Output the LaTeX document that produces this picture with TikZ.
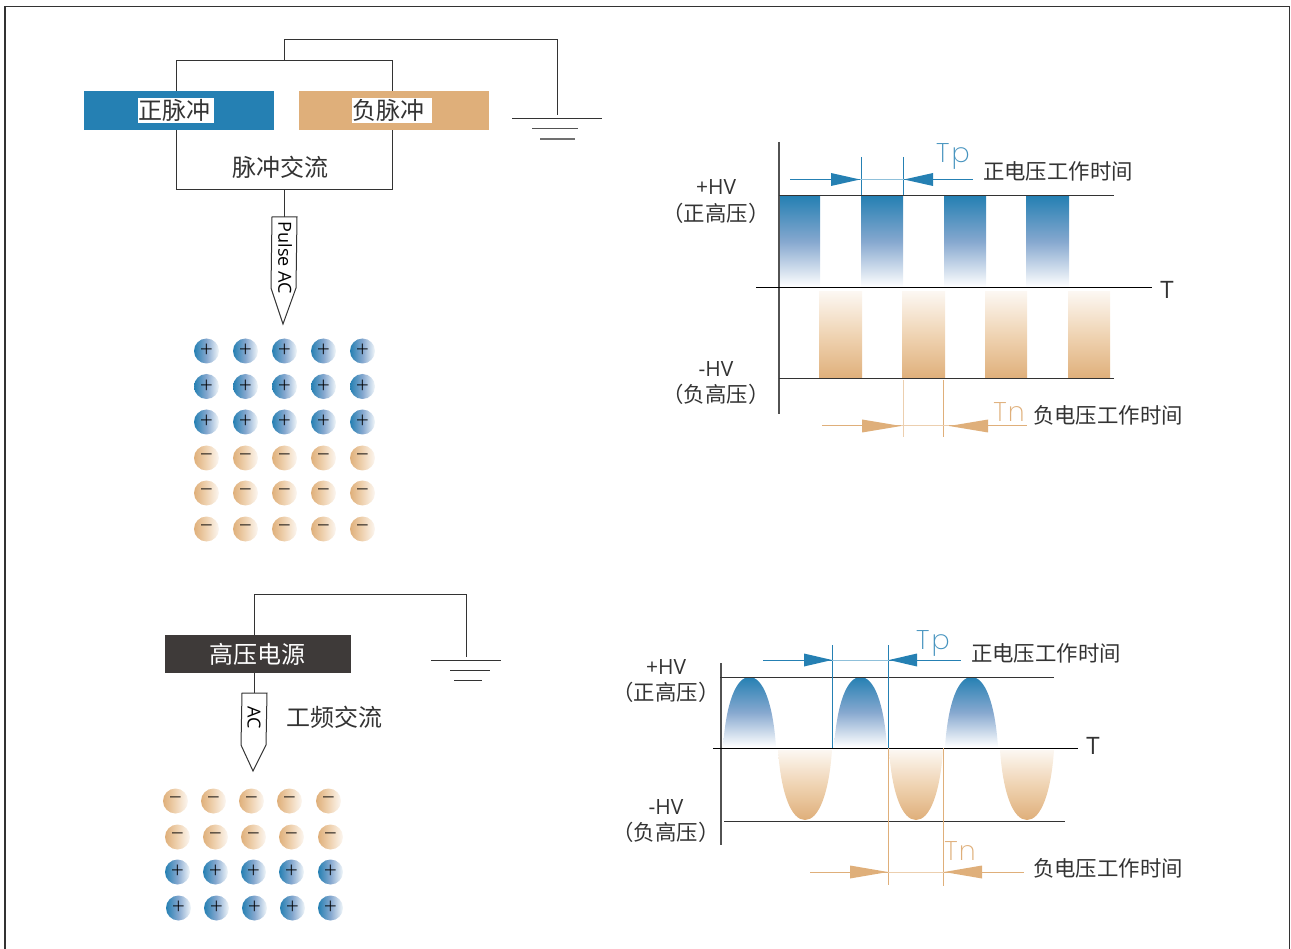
\documentclass[tikz,border=0pt]{standalone}
\usepackage{fontspec}
\setmainfont{Noto Sans CJK SC}
\newfontfamily\latinf{Open Sans}
\newfontfamily\lightf{Open Sans Light}
\newfontfamily\thinf{Poppins ExtraLight}
\definecolor{bluec}{HTML}{2580B3}
\definecolor{orangec}{HTML}{DFAF7A}
\definecolor{inkc}{HTML}{333333}
\definecolor{darkbox}{HTML}{3E3A39}
\definecolor{lblue}{HTML}{8FC0DA}
\definecolor{midblue}{HTML}{86A8CF}
\definecolor{midorange}{HTML}{EFD3B2}
\newcommand{\fs}[1]{\fontsize{#1}{#1}\selectfont}
\newcommand{\sgn}[1]{\raisebox{-2.6pt}{#1}}
\tikzset{
  x=1pt,y=-1pt,
  wire/.style={draw=inkc,line width=1pt},
  colbar/.style={fill=#1,draw=none,inner sep=0pt,minimum height=39pt,minimum width=190pt,outer sep=0pt},
  whitelab/.style={fill=white,text=inkc,inner sep=0pt,minimum height=25pt,font=\fs{24}},
  lab/.style={text=inkc,inner sep=0pt,font=\fs{22}},
  smalllab/.style={text=inkc,inner sep=0pt,font=\fs{21.4}},
  hvlab/.style={text=inkc,inner sep=0pt,font=\latinf\fs{21}},
  zhlab/.style={text=inkc,inner sep=0pt,font=\fs{21.4}},
  ttlab/.style={text=inkc,inner sep=0pt,font=\latinf\fs{24}},
  thinb/.style={text=bluec!85,inner sep=0pt,font=\thinf\fs{27}},
  thino/.style={text=orangec,inner sep=0pt,font=\thinf\fs{27}},
  ionbase/.style={circle,minimum size=25pt,inner sep=0pt,text=black,font=\lightf\fs{23}},
  posion/.style={ionbase,left color=bluec,right color=bluec!6,middle color=midblue},
  negion/.style={ionbase,left color=orangec,right color=orangec!10,middle color=midorange},
  bluefade/.style={top color=bluec,bottom color=white,middle color=midblue},
  orangefade/.style={top color=orangec!10,bottom color=orangec,middle color=midorange},
  axisline/.style={draw=black,line width=1pt},
  levelline/.style={draw=inkc,line width=1pt},
  vaxis/.style={draw=inkc!85,line width=1.2pt},
}
\newcommand{\dimarrows}[8]{%
% #1 colour, #2 light colour, #3 start x, #4 first tip x, #5 second tip x, #6 end x, #7 y, #8 triangle length
\coordinate (ds) at (#3,#7);\coordinate (dt1) at (#4,#7);\coordinate (dt2) at (#5,#7);\coordinate (de) at (#6,#7);
\draw[#1,line width=1pt] (ds)--(dt1);
\draw[#1,line width=1pt] (dt2)--(de);
\draw[#2,line width=1pt] (dt1)--(dt2);
\fill[#1] (dt1)--++(-#8,-6.5)--++(0,13)--cycle;
\fill[#1] (dt2)--++(#8,-6.5)--++(0,13)--cycle;
}
\begin{document}
\begin{tikzpicture}
\useasboundingbox (0,0) rectangle (1291,949);
% frame
\draw[draw=inkc,line width=1.3pt] (5,949)--(5,6.5)--(1289.5,6.5)--(1289.5,949);

% ===== pulse AC circuit
\coordinate (tl) at (176.5,61);\coordinate (tr) at (392.5,61);
\coordinate (bl) at (176.5,190);\coordinate (br) at (392.5,190);
\draw[wire] (tl) rectangle (br);
\node[colbar=bluec,anchor=north west] (posbar) at (84,91) {};
\node[colbar=orangec,anchor=north west] (negbar) at (299,91) {};
\node[whitelab,minimum width=76pt,text width=76pt,align=left] (poslab) at (176,110.5) {正脉冲};
\node[whitelab,minimum width=80pt,text width=80pt,align=left] (neglab) at (392,110.5) {负脉冲};
\node[lab,font=\fs{24}] (pac) at (280,167) {脉冲交流};
% ground 1
\coordinate (gt1) at (284.5,61);\coordinate (gc1) at (284.5,40);\coordinate (gc2) at (557,40);\coordinate (gc3) at (557,115);
\draw[wire] (gt1)--(gc1)--(gc2)--(gc3);
\coordinate (g1a) at (512,118.5);\coordinate (g1b) at (602,118.5);
\coordinate (g2a) at (532,129);\coordinate (g2b) at (578,129);
\coordinate (g3a) at (540,139);\coordinate (g3b) at (575,139);
\draw[wire] (g1a)--(g1b);
\draw[draw=inkc!85,line width=1pt] (g2a)--(g2b);
\draw[draw=inkc!70,line width=1.2pt] (g3a)--(g3b);
% probe 1
\coordinate (p0) at (284.5,190);\coordinate (p1) at (284.5,217);
\draw[wire] (p0)--(p1);
\draw[wire,line join=miter] (272,217)--(297,217)--(296,288)--(283,324)--(271,288)--cycle;
\node[text=black,inner sep=0pt,rotate=-90,font=\latinf\fs{18}] (plab) at (285,258) {Pulse AC};
% ions top
\foreach \y [count=\j] in {351,386.5,422}{
  \foreach \x [count=\i] in {206.5,245.5,284.5,323.5,362.5}{
    \node[posion] (ia\j\i) at (\x,\y) {\sgn{+}};
  }
}
\foreach \y [count=\j] in {458,493,529}{
  \foreach \x [count=\i] in {206.5,245.5,284.5,323.5,362.5}{
    \node[negion] (ib\j\i) at (\x,\y) {\sgn{−}};
  }
}

% ===== AC circuit
\node[fill=darkbox,inner sep=0pt,minimum width=186pt,minimum height=38pt,anchor=north west,text=white,font=\fs{24}] (hvbox) at (165,635) {\kern-2pt 高压电源};
\coordinate (h1) at (254,635);\coordinate (h2) at (254,594);\coordinate (h3) at (466,594);\coordinate (h4) at (466,657);
\draw[wire] (h1)--(h2)--(h3)--(h4);
\coordinate (h5a) at (431,660.5);\coordinate (h5b) at (501,660.5);
\coordinate (h6a) at (450,670.5);\coordinate (h6b) at (490,670.5);
\coordinate (h7a) at (454,680);\coordinate (h7b) at (482,680);
\draw[wire] (h5a)--(h5b);\draw[wire] (h6a)--(h6b);\draw[wire] (h7a)--(h7b);
\coordinate (q0) at (254,673);\coordinate (q1) at (254,693);
\draw[wire] (q0)--(q1);
\draw[wire,line join=miter] (242,693)--(267,693)--(266,745)--(253,771)--(241,745)--cycle;
\node[text=black,inner sep=0pt,rotate=-90,font=\latinf\fs{18}] (aclab) at (254,718) {AC};
\node[lab,font=\fs{24}] (gf) at (334,717) {工频交流};
% ions bottom
\foreach \x [count=\i] in {175.5,213.5,251.5,289.5,328.5}{\node[negion] (ic1\i) at (\x,801) {\sgn{−}};}
\foreach \x [count=\i] in {177.5,215.5,253.5,291.5,330.5}{\node[negion] (ic2\i) at (\x,837) {\sgn{−}};}
\foreach \x [count=\i] in {177.5,215.5,253.5,291.5,330.5}{\node[posion] (ic3\i) at (\x,872) {\sgn{+}};}
\foreach \x [count=\i] in {178.5,216.5,254.5,292.5,330.5}{\node[posion] (ic4\i) at (\x,908) {\sgn{+}};}

% ===== pulse chart
\foreach \a/\b in {779/820,861/903,944/986,1026/1069}{
  \path[bluefade] (\a,196) rectangle (\b,287);
}
\foreach \a/\b in {819/862,902/945,985/1027,1068/1110}{
  \path[orangefade] (\a,292) rectangle (\b,379);
}
\coordinate (c1a) at (779,142);\coordinate (c1b) at (779,414);
\draw[vaxis] (c1a)--(c1b);
\coordinate (c1c) at (756,288);\coordinate (c1d) at (1152,288);
\draw[axisline] (c1c)--(c1d);
\coordinate (c1e) at (779,195.5);\coordinate (c1f) at (1114,195.5);
\coordinate (c1g) at (779,379);\coordinate (c1h) at (1114,379);
\draw[levelline] (c1e)--(c1f);\draw[levelline] (c1g)--(c1h);
\node[ttlab] (t1) at (1167,290) {T};
\node[hvlab] (hp1) at (716,187.5) {+HV};
\node[zhlab] (hp1z) at (716,213.5) {（正高压）};
\node[hvlab] (hn1) at (716,369.5) {-HV};
\node[zhlab] (hn1z) at (716,394.5) {（负高压）};
% dims
\coordinate (v1a) at (861.5,157);\coordinate (v1b) at (861.5,195);
\coordinate (v2a) at (903.5,157);\coordinate (v2b) at (903.5,195);
\draw[bluec,line width=.9pt] (v1a)--(v1b);\draw[bluec,line width=.9pt] (v2a)--(v2b);
\dimarrows{bluec}{lblue}{790}{860}{904}{973}{179.5}{29}
\coordinate (v3a) at (903.5,380);\coordinate (v3b) at (903.5,437);
\coordinate (v4a) at (943.5,380);\coordinate (v4b) at (943.5,437);
\draw[orangec!60,line width=1pt] (v3a)--(v3b);\draw[orangec,line width=.8pt] (v4a)--(v4b);
\dimarrows{orangec}{orangec!60}{822}{901}{949}{1027}{426}{39}
\node[thinb] (tp1) at (953,156) {T\kern2pt p};
\node[thino] (tn1) at (1009,412) {T\kern1pt n};
\node[smalllab] (tx1) at (1058,171.5) {正电压工作时间};
\node[smalllab] (tx2) at (1108,415.5) {负电压工作时间};

% ===== sine chart
\foreach \a in {723,834,945}{
  \path[bluefade] (\a,747) .. controls (\a+3,703) and (\a+13,677) .. (\a+26.5,677) .. controls (\a+40,677) and (\a+50,703) .. (\a+53,747) -- cycle;
}
\foreach \a in {778,889,1000}{
  \path[orangefade] (\a,750) .. controls (\a+3,793) and (\a+13,820) .. (\a+27,820) .. controls (\a+41,820) and (\a+51,793) .. (\a+54,750) -- cycle;
}
\coordinate (c2a) at (721,663);\coordinate (c2b) at (721,845);
\draw[vaxis] (c2a)--(c2b);
\coordinate (c2c) at (713,748);\coordinate (c2d) at (1078,748);
\draw[axisline] (c2c)--(c2d);
\coordinate (c2e) at (720,677);\coordinate (c2f) at (1054,677);
\coordinate (c2g) at (724,821);\coordinate (c2h) at (1065,821);
\draw[levelline] (c2e)--(c2f);\draw[levelline] (c2g)--(c2h);
\node[ttlab] (t2) at (1093,746) {T};
\node[hvlab] (hp2) at (666,667.5) {+HV};
\node[zhlab] (hp2z) at (666,692.5) {（正高压）};
\node[hvlab] (hn2) at (666,807.5) {-HV};
\node[zhlab] (hn2z) at (666,832.5) {（负高压）};
\coordinate (w1a) at (832.5,645);\coordinate (w1b) at (832.5,748);
\coordinate (w2a) at (888.5,645);\coordinate (w2b) at (888.5,748);
\draw[bluec,line width=1pt] (w1a)--(w1b);\draw[bluec,line width=1pt] (w2a)--(w2b);
\dimarrows{bluec}{lblue}{763}{832}{889}{961}{660}{28}
\coordinate (w3a) at (888.5,748);\coordinate (w3b) at (888.5,885);
\coordinate (w4a) at (943.5,748);\coordinate (w4b) at (943.5,886);
\draw[orangec,line width=1pt] (w3a)--(w3b);\draw[orangec,line width=1pt] (w4a)--(w4b);
\dimarrows{orangec}{orangec!60}{810}{888}{944}{1024}{872}{38}
\node[thinb] (tp2) at (933,643) {T\kern2pt p};
\node[thino] (tn2) at (960,851) {T\kern1pt n};
\node[smalllab] (tx3) at (1046,653.5) {正电压工作时间};
\node[smalllab] (tx4) at (1108,868.5) {负电压工作时间};
\end{tikzpicture}
\end{document}
